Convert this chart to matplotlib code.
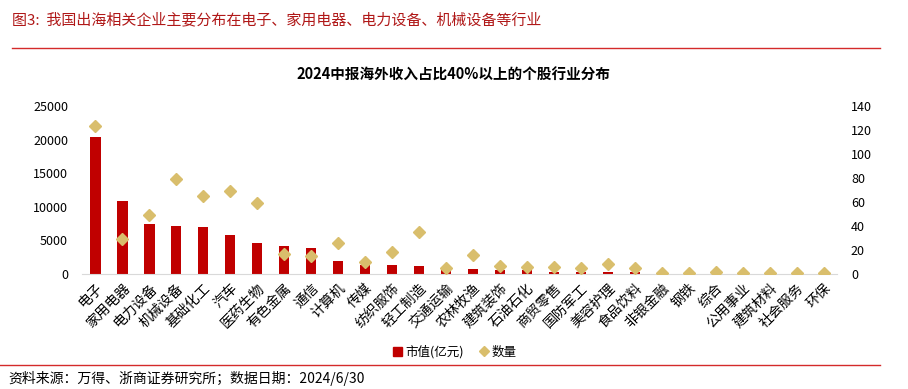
import matplotlib
matplotlib.use('Agg')
import matplotlib.pyplot as plt
from matplotlib.lines import Line2D
from matplotlib.patches import Patch

plt.rcParams['font.family'] = ['Noto Sans CJK SC', 'DejaVu Sans']

# data
industries = ['电子', '家用电器', '电力设备', '机械设备', '基础化工', '汽车', '医药生物', '有色金属',
              '通信', '计算机', '传媒', '纺织服饰', '轻工制造', '交通运输', '农林牧渔', '建筑装饰',
              '石油石化', '商贸零售', '国防军工', '美容护理', '食品饮料', '非银金融', '钢铁', '综合',
              '公用事业', '建筑材料', '社会服务', '环保']
market_cap = [20400, 10800, 7500, 7150, 7000, 5850, 4550, 4100,
              3900, 2000, 1400, 1300, 1250, 1000, 800, 650,
              600, 350, 300, 280, 250, 30, 20, 100,
              20, 20, 10, 10]
counts = [123, 29, 49, 79, 65, 69, 59, 17,
          15, 26, 10, 18, 35, 5, 16, 7,
          6, 6, 5, 8, 5, 1, 1, 2,
          1, 1, 1, 1]

bar_color = '#C00000'
dot_color = '#D9BE6C'
red_line = '#D42A2A'

fig = plt.figure(figsize=(9.08, 3.89), dpi=100)

# header and rules
fig.text(12 / 908, 1 - 20 / 389, '图3:  我国出海相关企业主要分布在电子、家用电器、电力设备、机械设备等行业',
         color='#B01818', fontsize=10.8, ha='left', va='center')
fig.add_artist(Line2D([12 / 908, 880 / 908], [1 - 48 / 389] * 2, color=red_line, lw=1.0))
fig.add_artist(Line2D([0, 880 / 908], [1 - 365 / 389] * 2, color=red_line, lw=1.0))
fig.text(8 / 908, 1 - 378 / 389, '资料来源：万得、浙商证券研究所；数据日期：2024/6/30',
         fontsize=10, ha='left', va='center')
fig.text(453 / 908, 1 - 75 / 389, '2024中报海外收入占比40%以上的个股行业分布',
         fontsize=10.5, fontweight='bold', ha='center', va='center')

ax = fig.add_axes([82 / 908, 1 - 274 / 389, (837 - 82) / 908, (274 - 106) / 389])
x = list(range(len(industries)))
ax.bar(x, market_cap, width=0.38, color=bar_color, zorder=2)
ax.set_xlim(-0.5, len(industries) - 0.5)
ax.set_ylim(0, 25000)
ax.set_yticks(range(0, 25001, 5000))
for s in ['top', 'right', 'left']:
    ax.spines[s].set_visible(False)
ax.spines['bottom'].set_color('#D9D9D9')
ax.tick_params(axis='y', length=0, labelsize=9, pad=10)
ax.tick_params(axis='x', length=0, pad=5)
ax.set_xticks(x)
ax.set_xticklabels(industries, rotation=45, ha='right', va='top',
                   rotation_mode='anchor', fontsize=10)

ax2 = ax.twinx()
ax2.plot(x, counts, linestyle='none', marker='D', markersize=6,
         color=dot_color, zorder=3)
ax2.set_ylim(0, 140)
ax2.set_yticks(range(0, 141, 20))
for s in ['top', 'right', 'left', 'bottom']:
    ax2.spines[s].set_visible(False)
ax2.tick_params(axis='y', length=0, labelsize=9, pad=10)

handles = [Patch(color=bar_color, label='市值(亿元)'),
           Line2D([], [], linestyle='none', marker='D', markersize=5,
                  color=dot_color, label='数量')]
fig.legend(handles=handles, loc='center', bbox_to_anchor=(455 / 908, 1 - 352 / 389),
           ncol=2, frameon=False, fontsize=9, handlelength=0.7, handletextpad=0.3,
           columnspacing=1.2)

fig.savefig('out.png', dpi=100)
